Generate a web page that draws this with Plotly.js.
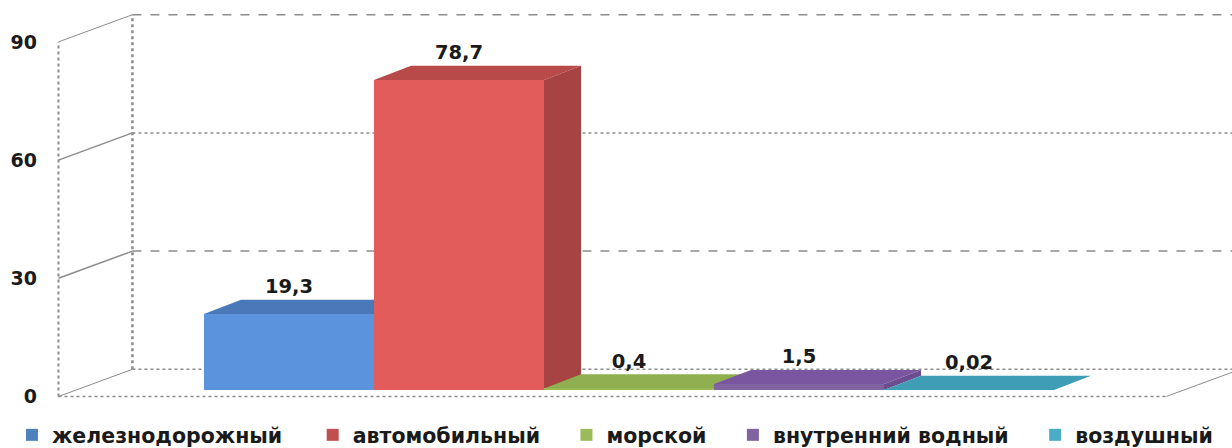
<!DOCTYPE html>
<html><head><meta charset="utf-8">
<script src="https://cdn.plot.ly/plotly-3.0.1.min.js"></script>
<style>html,body{margin:0;padding:0;background:#fff}#c{width:1232px;height:448px}</style>
</head><body><div id="c"></div>
<script>
const categories = ["железнодорожный","автомобильный","морской","внутренний водный","воздушный"];
const values = [19.3,78.7,0.4,1.5,0.02];
const valueLabels = ["19,3","78,7","0,4","1,5","0,02"];
const frontColors = ["#5B94DD","#E25C5C","#9BBB59","#8064A2","#4BACC6"];
const keyColors = ["#4F81BD","#C0504D","#9BBB59","#8064A2","#4BACC6"];
const topColors = ["#4A78B8","#B84A4A","#8FAF50","#7A55A0","#3F9DB6"];
const sideColors = ["#44699F","#A84343","#7F9C48","#6C4E90","#3A8AA0"];
const axisTicks = [0,30,60,90];
const FONT = "DejaVu Sans";
const keyPads = ["\u00A0\u00A0\u00A0\u2009","\u00A0\u00A0\u00A0","\u00A0\u00A0\u00A0","\u00A0\u00A0\u00A0",""];

const barDx = 0.218, barDy = 3.6, wallDx = 0.435, wallDy = 6.9, labelGap = 6.5;
const frontX = -1.356, floorEnd = 5.16;
const yRange2 = [-14.72, 98.98], yRange1 = [-13.07, 100.63];
const traces = [];
const layout = {
  width:1232, height:448, margin:{l:0,r:0,t:0,b:0,autoexpand:false},
  paper_bgcolor:"#fff", plot_bgcolor:"#fff", showlegend:true, barmode:"overlay",
  font:{family:FONT,color:"#1a1a1a"},
  xaxis:{domain:[40/1232,1],range:[-1.4647,5.547],visible:false,fixedrange:true},
  yaxis:{range:yRange1,tickvals:axisTicks,ticktext:axisTicks.map(String),showgrid:false,zeroline:false,
         showline:false,ticks:"",ticklabelstandoff:2,tickfont:{family:FONT,size:19,weight:700,color:"#1a1a1a"},fixedrange:true},
  legend:{orientation:"h",x:0.0097,y:0.029,xanchor:"left",yanchor:"middle",
          font:{family:FONT,size:20.5,weight:700,color:"#1a1a1a"},traceorder:"normal",itemclick:false,bgcolor:"rgba(0,0,0,0)"},
  shapes:[]
};
const wall = (x0,y0,x1,y1,dash,w) => layout.shapes.push({type:"line",xref:"x",yref:"y",x0,y0,x1,y1,layer:"below",
  line:{color:"#8c8c8c",width:w,dash}});
const backX = frontX + wallDx;
wall(frontX,axisTicks[0],frontX,axisTicks[3],"dot",2);
wall(backX,axisTicks[0]+wallDy,backX,axisTicks[3]+wallDy,"dot",2.5);
wall(frontX,axisTicks[0],floorEnd,axisTicks[0],"dot",1.5);
wall(floorEnd,axisTicks[0],floorEnd+wallDx,axisTicks[0]+wallDy,"solid",1);
axisTicks.forEach((t,k)=>{
  wall(frontX,t,backX,t+wallDy,"solid",k===1||k===2?1.5:1);
  wall(backX,t+wallDy,5.547,t+wallDy,k%2===1?"dash":"dot",1.5);
});

categories.forEach((name,i)=>{
  const n = i+2, ya = "y"+n, v = values[i];
  layout["yaxis"+n] = {range:yRange2,overlaying:"y",visible:false,fixedrange:true};
  traces.push({type:"bar",name,x:[i],y:[v],width:[1],yaxis:ya,marker:{color:frontColors[i],line:{width:0}},showlegend:false,hoverinfo:"name+y"});
  traces.push({type:"scatter",mode:"lines",x:[i-.5,i-.5+barDx,i+.5+barDx,i+.5,i-.5],y:[v,v+barDy,v+barDy,v,v],yaxis:ya,
    fill:"toself",fillcolor:topColors[i],line:{width:0},showlegend:false,hoverinfo:"skip"});
  traces.push({type:"scatter",mode:"lines",x:[i+.5,i+.5+barDx,i+.5+barDx,i+.5,i+.5],y:[v,v+barDy,barDy,0,v],yaxis:ya,
    fill:"toself",fillcolor:sideColors[i],line:{width:0},showlegend:false,hoverinfo:"skip"});
});
categories.forEach((name,i)=>{
  traces.push({type:"bar",name:name+keyPads[i],x:[i],y:[null],yaxis:"y6",marker:{color:keyColors[i],line:{width:0}},hoverinfo:"skip"});
});
traces.push({type:"scatter",mode:"text",x:categories.map((_,i)=>i),y:values.map(v=>v+labelGap),text:valueLabels,yaxis:"y6",
  textposition:"middle center",textfont:{family:FONT,size:19.5,weight:700,color:"#1a1a1a"},showlegend:false,hoverinfo:"skip"});
Plotly.newPlot("c",traces,layout,{displayModeBar:false,responsive:false});
</script></body></html>
